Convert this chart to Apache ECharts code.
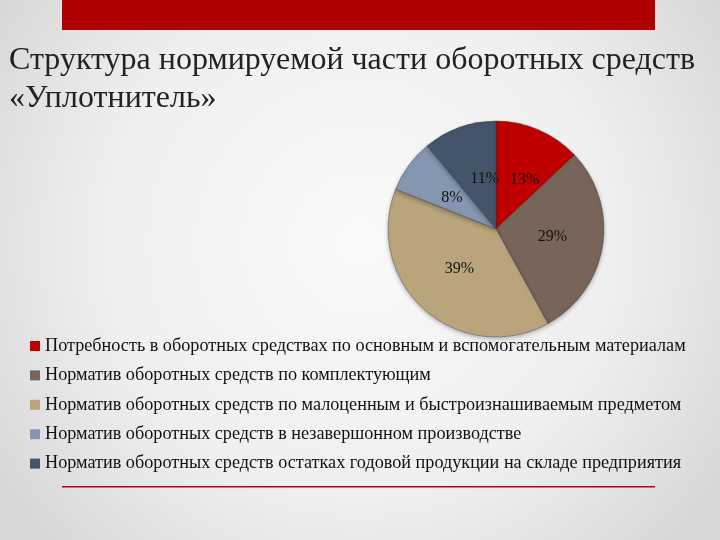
<!DOCTYPE html>
<html><head><meta charset="utf-8">
<script src="https://cdn.jsdelivr.net/npm/echarts@6/dist/echarts.min.js"></script>
<style>html,body{margin:0;padding:0;}#c{width:720px;height:540px;}</style>
</head><body><div id="c"></div>
<script>
const categories = [
  'Потребность в оборотных средствах по основным и вспомогательным материалам',
  'Норматив оборотных средств по комплектующим',
  'Норматив оборотных средств по малоценным и быстроизнашиваемым предметом',
  'Норматив оборотных средств в незавершонном производстве',
  'Норматив оборотных средств остатках годовой продукции на складе предприятия'
];
const values = [13, 29, 39, 8, 11];
const colors = ['#C00000', '#776559', '#B9A47C', '#8496B0', '#44546A'];
const labelOffsets = [[6, 3], [0, -1], [1, -3], [2, 2], [8, 3]];

const chart = echarts.init(document.getElementById('c'));
const serif = '"Liberation Serif", "DejaVu Serif", serif';
chart.setOption({
  backgroundColor: {
    type: 'radial', x: 0.5, y: 0.45, r: 0.8,
    colorStops: [{offset: 0, color: '#fafafa'}, {offset: 0.6, color: '#efefef'}, {offset: 1, color: '#d8d8d8'}]
  },
  title: {
    text: 'Структура нормируемой части оборотных средств\n«Уплотнитель»',
    left: 4, top: 37,
    textStyle: {fontFamily: serif, fontSize: 32, fontWeight: 'normal', color: '#222', lineHeight: 38}
  },
  graphic: [
    {type: 'rect', shape: {x: 62, y: 0, width: 593, height: 30}, style: {fill: '#B00000'}},
    {type: 'rect', shape: {x: 62, y: 486, width: 593, height: 1.5}, style: {fill: '#C00000'}}
  ],
  legend: {
    orient: 'vertical', left: 25, top: 331,
    itemWidth: 10, itemHeight: 10, itemGap: 9.4, icon: 'rect',
    itemStyle: {borderWidth: 0, shadowBlur: 0},
    textStyle: {fontFamily: serif, fontSize: 18.2, lineHeight: 20, color: '#111'},
    data: categories
  },
  series: [{
    type: 'pie',
    center: [496, 229],
    radius: 108,
    startAngle: 90,
    clockwise: true,
    avoidLabelOverlap: false,
    itemStyle: {borderColor: 'rgba(60,60,60,0.5)', borderWidth: 0.8,
      shadowBlur: 4, shadowColor: 'rgba(0,0,0,0.25)', shadowOffsetY: 2},
    label: {position: 'inside', formatter: '{c}%', fontFamily: serif, fontSize: 16, color: '#111'},
    labelLine: {show: false},
    emphasis: {disabled: true},
    data: categories.map((n, i) => ({name: n, value: values[i], itemStyle: {color: colors[i]},
      label: {offset: labelOffsets[i]}}))
  }]
});
</script></body></html>
